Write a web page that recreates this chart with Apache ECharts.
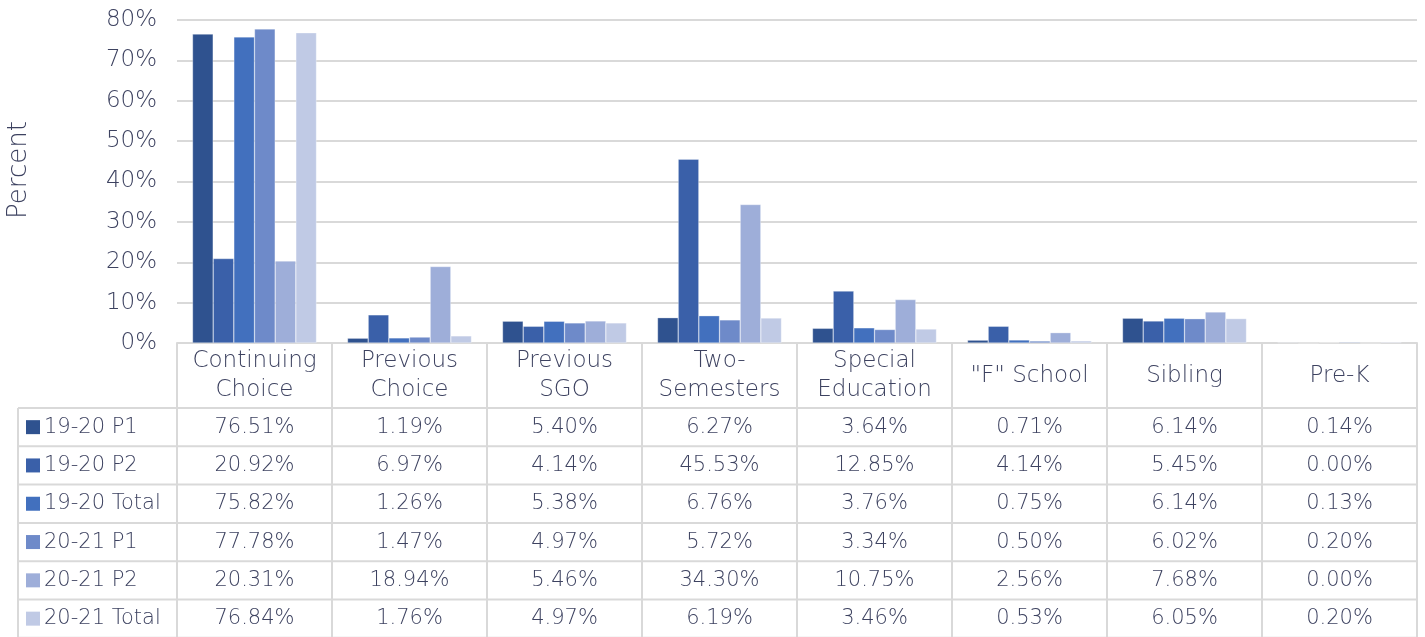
<!DOCTYPE html>
<html>
<head>
<meta charset="utf-8">
<script src="https://cdn.jsdelivr.net/npm/echarts@6/dist/echarts.min.js"></script>
<style>
  html, body { margin: 0; padding: 0; background: #fff; }
  #chart { width: 1425px; height: 637px; }
</style>
</head>
<body>
<div id="chart"></div>
<script>
const categories = ['Continuing\nChoice', 'Previous\nChoice', 'Previous\nSGO', 'Two-\nSemesters', 'Special\nEducation', '"F" School', 'Sibling', 'Pre-K'];
const seriesNames = ['19-20 P1', '19-20 P2', '19-20 Total', '20-21 P1', '20-21 P2', '20-21 Total'];
const p1920 = [76.51, 1.19, 5.40, 6.27, 3.64, 0.71, 6.14, 0.14];
const p2_1920 = [20.92, 6.97, 4.14, 45.53, 12.85, 4.14, 5.45, 0.00];
const total1920 = [75.82, 1.26, 5.38, 6.76, 3.76, 0.75, 6.14, 0.13];
const p2021 = [77.78, 1.47, 4.97, 5.72, 3.34, 0.50, 6.02, 0.20];
const p2_2021 = [20.31, 18.94, 5.46, 34.30, 10.75, 2.56, 7.68, 0.00];
const total2021 = [76.84, 1.76, 4.97, 6.19, 3.46, 0.53, 6.05, 0.20];
const seriesValues = [p1920, p2_1920, total1920, p2021, p2_2021, total2021];
const colors = ['#2f528f', '#3a60a9', '#4270be', '#6e8ac9', '#9eaed9', '#c0cae5'];

const textColor = '#3d4260';
const lineColor = '#d9d9d9';
const font = '"DejaVu Sans", sans-serif';
const fontWeight = 200;

const W = 1425, H = 637;
const gridLeft = 177, gridRight = 8, gridTop = 20, gridBottom = 294;
const tableLeft = 18;
const headerH = 65;
const rowH = 38.3;

const chart = echarts.init(document.getElementById('chart'));

function buildTable() {
  const els = [];
  const plotW = W - gridLeft - gridRight;
  const colW = plotW / categories.length;
  const axisY = H - gridBottom;
  const bodyTop = axisY + headerH;
  const right = gridLeft + plotW;
  const cellFont = fontWeight + ' 21px ' + font;
  const ln = (x1, y1, x2, y2) => els.push({
    type: 'line', shape: { x1, y1, x2, y2 }, style: { stroke: lineColor, lineWidth: 2 }, silent: true,
  });
  // y axis title
  els.push({
    type: 'text', x: 19, y: 170, rotation: Math.PI / 2,
    style: { text: 'Percent', fill: textColor, font: fontWeight + ' 26px ' + font, align: 'center', verticalAlign: 'middle' },
    silent: true,
  });
  // horizontal lines
  for (let r = 0; r <= seriesNames.length; r++) {
    const y = bodyTop + r * rowH;
    ln(tableLeft, y, right, y);
  }
  // vertical lines
  for (let i = 0; i <= categories.length; i++) {
    const x = gridLeft + i * colW;
    ln(x, axisY, x, H + 2);
  }
  ln(tableLeft, bodyTop, tableLeft, H + 2);
  // rows
  seriesNames.forEach((name, r) => {
    const cy = bodyTop + r * rowH + rowH / 2;
    els.push({ type: 'rect', shape: { x: 26, y: cy - 7, width: 14, height: 14 }, style: { fill: colors[r] }, silent: true });
    els.push({
      type: 'text', x: 44, y: cy,
      style: { text: name, fill: textColor, font: cellFont, verticalAlign: 'middle', align: 'left' },
      silent: true,
    });
    seriesValues[r].forEach((v, c) => {
      els.push({
        type: 'text', x: gridLeft + c * colW + colW / 2, y: cy,
        style: { text: v.toFixed(2) + '%', fill: textColor, font: cellFont, verticalAlign: 'middle', align: 'center' },
        silent: true,
      });
    });
  });
  return els;
}

chart.setOption({
  backgroundColor: '#fff',
  animation: false,
  grid: { left: gridLeft, right: gridRight, top: gridTop, bottom: gridBottom, containLabel: false },
  xAxis: {
    type: 'category',
    data: categories.map((c) => (c.includes('\n') ? c : { value: c, textStyle: { lineHeight: 58 } })),
    axisLine: { lineStyle: { color: lineColor, width: 2 } },
    axisTick: { show: false },
    axisLabel: {
      color: textColor, fontFamily: font, fontWeight, fontSize: 23, lineHeight: 29,
      margin: 4, verticalAlign: 'top', interval: 0,
    },
  },
  yAxis: {
    type: 'value',
    min: 0,
    max: 80,
    interval: 10,
    axisLine: { show: false },
    axisTick: { show: false },
    axisLabel: { color: textColor, fontFamily: font, fontWeight, fontSize: 23, margin: 20, formatter: (v) => v + '%' },
    splitLine: { lineStyle: { color: lineColor, width: 2 } },
  },
  series: seriesNames.map((name, i) => ({
    name,
    type: 'bar',
    data: seriesValues[i],
    barGap: '0%',
    barCategoryGap: '20%',
    itemStyle: { color: colors[i], borderColor: 'rgba(255,255,255,0.6)', borderWidth: 0.5 },
  })),
  graphic: buildTable(),
});
</script>
</body>
</html>
